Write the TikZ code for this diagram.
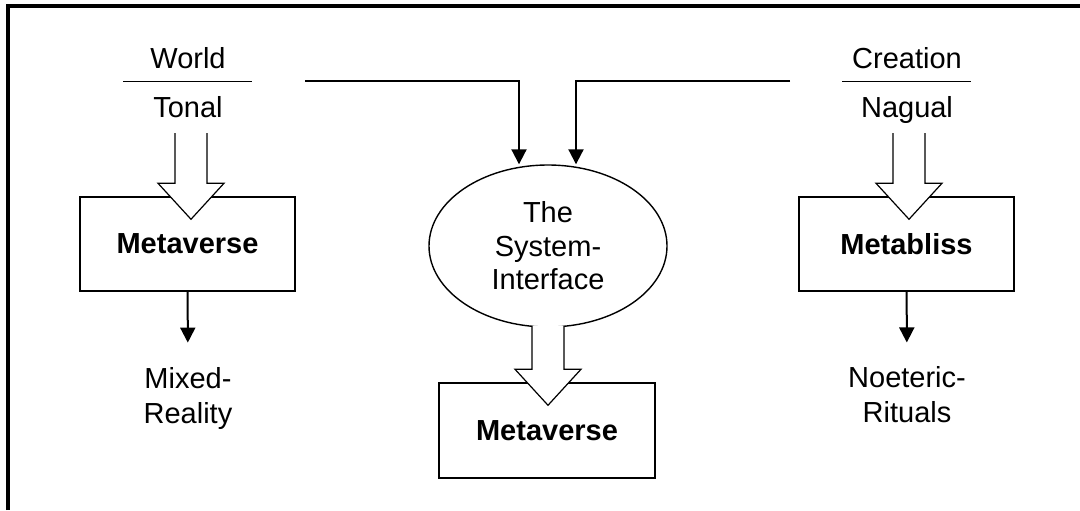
\documentclass[tikz,border=0pt]{standalone}
\usepackage{fontspec}
\setmainfont{Liberation Sans}
\usepackage{tikz}
\usetikzlibrary{shapes,arrows,positioning,calc,shapes.geometric,arrows.meta}

\begin{document}
\begin{tikzpicture}[x=0.5pt, y=-0.5pt,
    font=\fontsize{14.5}{17.5}\selectfont,
    block/.style={rectangle, draw, line width=0.75pt, minimum width=107.5pt, minimum height=47pt, inner sep=0pt, font=\fontsize{14.5}{17.5}\selectfont\bfseries},
    word/.style={inner sep=0pt, anchor=base},
    note/.style={inner sep=0pt, align=center},
    arrow/.style={-{Triangle[width=7.5pt,length=7.5pt]}, line width=1pt},
    hollow/.style={draw, fill=white, line width=0.6pt}]

    \useasboundingbox (0,0) rectangle (1080,510);
    \draw[line width=2pt] (8,510) -- (8,6) -- (1080,6);

    \node[word] (world) at (188,68) {World};
    \node[word] (tonal) at (188,117) {Tonal};
    \node[word] (creation) at (907,68) {Creation};
    \node[word] (nagual) at (907,117) {Nagual};
    \draw[line width=0.75pt] (world.south) ++(-65,13) -- ++(129,0);
    \draw[line width=0.75pt] (creation.south) ++(-65,13) -- ++(129,0);

    \node[block] (metaL) at (187.5,244) {Metaverse};
    \node[block] (metabliss) at (906.5,244) {Metabliss};
    \node[ellipse, draw, line width=0.7pt, minimum width=119pt, minimum height=81pt, inner sep=0pt, align=center, font=\fontsize{14.5}{16.75}\selectfont] (sysif) at (548,246) {The\\System-\\Interface};
    \node[block, minimum width=108pt, minimum height=47.5pt] (metaB) at (547,430.5) {Metaverse};
    \node[note] (mixed) at (188,398) {Mixed-\\Reality};
    \node[note] (noeteric) at (907,395) {Noeteric-\\Rituals};

    \coordinate (inL) at (305,81);
    \coordinate (inR) at (790,81);
    \draw[arrow] (inL) -| ([xshift=-14.5pt]sysif.north);
    \draw[arrow] (inR) -| ([xshift=14pt]sysif.north);

    \draw[arrow, shorten >=12pt] (metaL) -- (mixed);
    \draw[arrow, shorten >=12pt] (metabliss) -- (noeteric);

    % hollow arrows
    \coordinate (fatL) at (191,133);
    \coordinate (fatR) at (909,133);
    \coordinate (fatM) at ($(sysif.south)+(0,-2)$);
    \coordinate (tipL) at ($(fatL |- metaL.north)+(0,23)$);
    \coordinate (tipR) at ($(fatR |- metabliss.north)+(0,23)$);
    \coordinate (tipM) at ($(fatM |- metaB.north)+(0,23)$);
    \foreach \s/\t in {fatL/tipL, fatM/tipM, fatR/tipR}
        \draw[hollow] ($(\s)+(-16,0)$) -- ($(\t)+(-16,-36)$) -- ($(\t)+(-33,-36)$) -- (\t)
            -- ($(\t)+(33,-36)$) -- ($(\t)+(16,-36)$) -- ($(\s)+(16,0)$);
\end{tikzpicture}
\end{document}
